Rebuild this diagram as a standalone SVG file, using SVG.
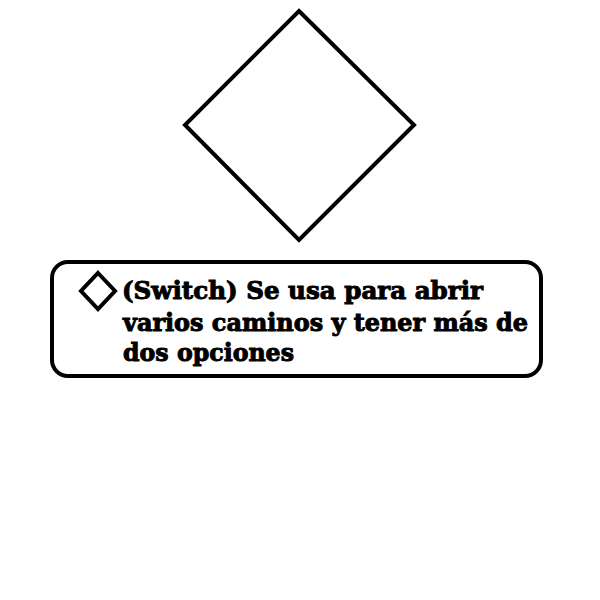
<svg xmlns="http://www.w3.org/2000/svg" width="600" height="600" viewBox="0 0 600 600">
<style>
.shape{fill:#fff;stroke:#000;stroke-width:4}
.t{font-family:"DejaVu Serif","Liberation Serif",serif;font-weight:bold;font-size:25px;fill:#000;stroke:#000;stroke-width:1}
</style>
<rect width="600" height="600" fill="#fff"/>
<g id="decision">
<polygon class="shape" points="299,11 414,125 299,240 185,125"/>
</g>
<g id="legend">
<rect class="shape" x="52" y="262" width="489" height="114" rx="16" ry="16"/>
<polygon class="shape" points="98,273 115,291 98,309 81,291" stroke-width="5"/>
<text class="t" x="122" y="299" textLength="361" lengthAdjust="spacingAndGlyphs">(Switch) Se usa para abrir</text>
<text class="t" x="123" y="331" textLength="405" lengthAdjust="spacingAndGlyphs">varios caminos y tener más de</text>
<text class="t" x="123" y="361" textLength="171" lengthAdjust="spacingAndGlyphs">dos opciones</text>
</g>
<g id="connectors"></g>
</svg>
